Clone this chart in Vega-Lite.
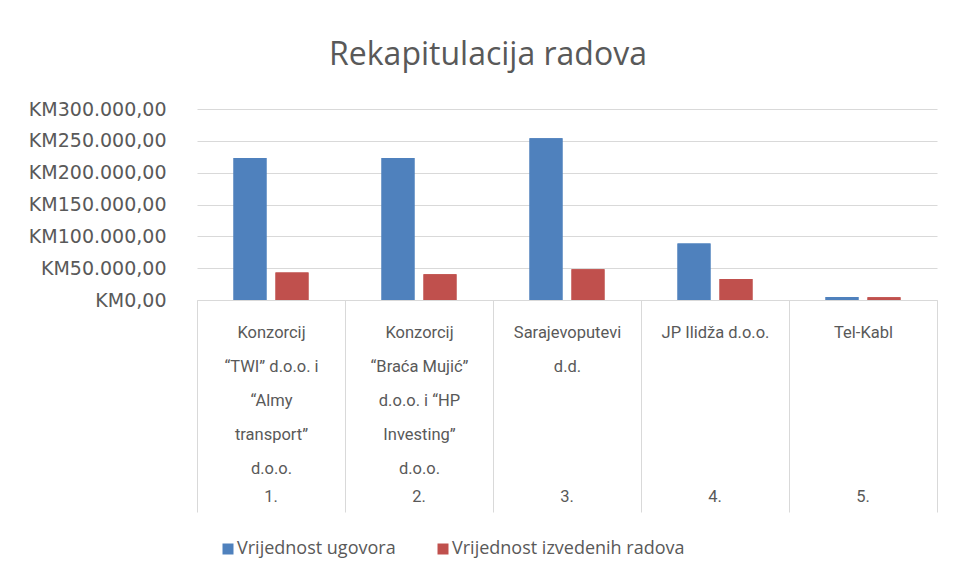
{
  "$schema": "https://vega.github.io/schema/vega-lite/v6.json",
  "autosize": "none",
  "width": 740,
  "height": 191,
  "padding": {"left": 197, "top": 109, "right": 19, "bottom": 277},
  "background": "white",
  "config": {
    "view": {"stroke": null},
    "locale": {"number": {"decimal": ",", "thousands": ".", "grouping": [3], "currency": ["KM", ""]}}
  },
  "title": {
    "text": "Rekapitulacija radova",
    "font": "Open Sans",
    "fontSize": 32,
    "fontWeight": "normal",
    "color": "#595959",
    "anchor": "middle",
    "dx": -79,
    "offset": 28
  },
  "data": {
    "values": [
      {"izvodjac": "Konzorcij|“TWI” d.o.o. i|“Almy|transport”|d.o.o.|1.", "serija": "Vrijednost ugovora", "vrijednost": 223000},
      {"izvodjac": "Konzorcij|“TWI” d.o.o. i|“Almy|transport”|d.o.o.|1.", "serija": "Vrijednost izvedenih radova", "vrijednost": 43300},
      {"izvodjac": "Konzorcij|“Braća Mujić”|d.o.o. i “HP|Investing”|d.o.o.|2.", "serija": "Vrijednost ugovora", "vrijednost": 223000},
      {"izvodjac": "Konzorcij|“Braća Mujić”|d.o.o. i “HP|Investing”|d.o.o.|2.", "serija": "Vrijednost izvedenih radova", "vrijednost": 40600},
      {"izvodjac": "Sarajevoputevi|d.d.|3.", "serija": "Vrijednost ugovora", "vrijednost": 254200},
      {"izvodjac": "Sarajevoputevi|d.d.|3.", "serija": "Vrijednost izvedenih radova", "vrijednost": 48400},
      {"izvodjac": "JP Ilidža d.o.o.|4.", "serija": "Vrijednost ugovora", "vrijednost": 88600},
      {"izvodjac": "JP Ilidža d.o.o.|4.", "serija": "Vrijednost izvedenih radova", "vrijednost": 32800},
      {"izvodjac": "Tel-Kabl|5.", "serija": "Vrijednost ugovora", "vrijednost": 4700},
      {"izvodjac": "Tel-Kabl|5.", "serija": "Vrijednost izvedenih radova", "vrijednost": 4500}
    ]
  },
  "encoding": {
    "xOffset": {
      "field": "serija",
      "type": "nominal",
      "sort": ["Vrijednost ugovora", "Vrijednost izvedenih radova"],
      "scale": {"paddingInner": 0.214, "paddingOuter": 0.869}
    },
    "y": {
      "field": "vrijednost",
      "type": "quantitative",
      "scale": {"domain": [0, 300000], "nice": false},
      "axis": {
        "title": null,
        "values": [0, 50000, 100000, 150000, 200000, 250000, 300000],
        "format": "$,.2f",
        "labelFont": "DejaVu Sans",
        "labelFontSize": 19,
        "labelColor": "#595959",
        "labelPadding": 31,
        "domain": false,
        "ticks": false,
        "grid": true,
        "gridColor": "#D9D9D9",
        "gridWidth": 1
      }
    },
    "color": {
      "field": "serija",
      "type": "nominal",
      "sort": ["Vrijednost ugovora", "Vrijednost izvedenih radova"],
      "scale": {"domain": ["Vrijednost ugovora", "Vrijednost izvedenih radova"], "range": ["#4F81BD", "#C0504D"]},
      "legend": {
        "title": null,
        "orient": "none",
        "direction": "horizontal",
        "legendX": 22,
        "legendY": 431,
        "symbolType": "square",
        "symbolSize": 121,
        "symbolStrokeWidth": 0,
        "symbolOpacity": 1,
        "labelFont": "Open Sans",
        "labelFontSize": 18,
        "labelColor": "#595959",
        "labelOffset": 0,
        "columnPadding": 38,
        "labelLimit": 0
      }
    }
  },
  "layer": [
    {
      "mark": {"type": "bar"},
      "encoding": {
        "x": {
          "field": "izvodjac",
          "type": "nominal",
          "sort": null,
          "scale": {"paddingInner": 0, "paddingOuter": 0},
          "axis": {
            "orient": "bottom",
            "title": null,
            "labelAngle": 0,
            "labelExpr": "slice(split(datum.label, '|'), 0, -1)",
            "labelFont": "Roboto",
            "labelFontSize": 16.5,
            "labelColor": "#595959",
            "labelLineHeight": 34,
            "labelBaseline": "top",
            "labelAlign": "center",
            "labelPadding": -188,
            "labelOverlap": false,
            "labelBound": false,
            "labelFlush": false,
            "labelLimit": 0,
            "tickBand": "extent",
            "tickSize": 212,
            "tickColor": "#D9D9D9",
            "tickWidth": 1,
            "domainColor": "#D9D9D9",
            "domainWidth": 1,
            "grid": false
          }
        }
      }
    },
    {
      "mark": {"type": "bar"},
      "encoding": {
        "x": {
          "field": "izvodjac",
          "type": "nominal",
          "sort": null,
          "scale": {"paddingInner": 0, "paddingOuter": 0},
          "axis": {
            "orient": "bottom",
            "title": null,
            "labelAngle": 0,
            "labelExpr": "peek(split(datum.label, '|'))",
            "labelFont": "Roboto",
            "labelFontSize": 16.5,
            "labelColor": "#595959",
            "labelBaseline": "top",
            "labelAlign": "center",
            "labelPadding": 188,
            "labelOverlap": false,
            "labelBound": false,
            "labelFlush": false,
            "labelLimit": 0,
            "ticks": false,
            "domain": false,
            "grid": false
          }
        }
      }
    }
  ],
  "resolve": {"axis": {"x": "independent"}}
}
